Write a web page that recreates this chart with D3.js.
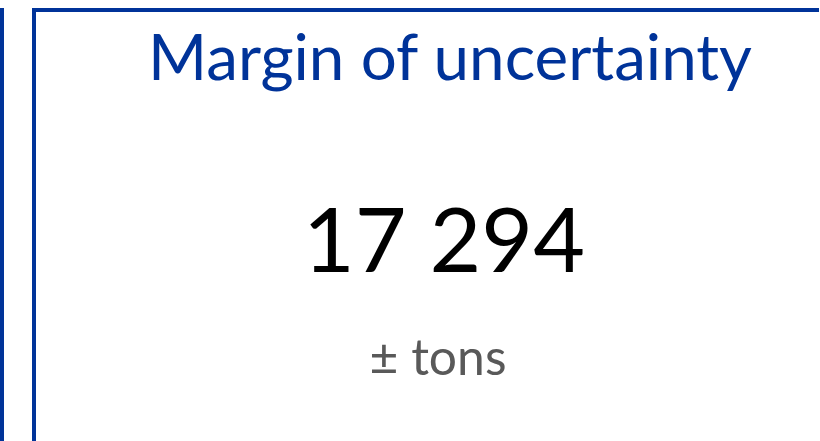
<!DOCTYPE html>
<html>
<head>
<meta charset="utf-8">
<script src="https://cdn.jsdelivr.net/npm/d3@7"></script>
<style>
  html, body { margin: 0; padding: 0; background: #fff; }
</style>
</head>
<body>
<div id="card"></div>
<script>
var svgWidth = 820;
var svgHeight = 441;

// kpi data
var kpiTitles = ["Margin of uncertainty"];
var kpiValues = [17294];
var kpiUnits = ["± tons"];

var blue = "#003399";

var locale = d3.formatLocale({ thousands: " ", grouping: [3], decimal: ",", currency: ["", ""] });
var fmt = locale.format(",d");

var svg = d3.select("#card")
  .append("svg")
  .attr("width", svgWidth)
  .attr("height", svgHeight);

// outer left rule
svg.append("rect")
  .attr("x", 0).attr("y", 8)
  .attr("width", 4).attr("height", svgHeight - 8)
  .attr("fill", blue);

// card frame: top + left
svg.append("rect")
  .attr("x", 32).attr("y", 8)
  .attr("width", 4).attr("height", svgHeight - 8)
  .attr("fill", blue);
svg.append("rect")
  .attr("x", 32).attr("y", 8)
  .attr("width", 787).attr("height", 4)
  .attr("fill", blue);

// fit text to a target width
function fit(sel, target) {
  var size = +sel.attr("font-size");
  var w = sel.node().getComputedTextLength();
  sel.attr("font-size", size * target / w);
}

var font = "Lato, 'Open Sans', sans-serif";

var title = svg.append("text")
  .data(kpiTitles)
  .attr("x", 450).attr("y", 80)
  .attr("text-anchor", "middle")
  .attr("font-family", font)
  .attr("font-size", 60)
  .attr("fill", blue)
  .text(d => d);
fit(title, 604);

var value = svg.append("text")
  .data(kpiValues)
  .attr("x", 444).attr("y", 272)
  .attr("text-anchor", "middle")
  .attr("font-family", font)
  .attr("font-size", 90)
  .attr("fill", "#000")
  .text(d => fmt(d));
fit(value, 282);

var unit = svg.append("text")
  .data(kpiUnits)
  .attr("x", 438).attr("y", 375)
  .attr("text-anchor", "middle")
  .attr("font-family", font)
  .attr("font-size", 45)
  .attr("fill", "#595959")
  .text(d => d);
fit(unit, 137);
</script>
</body>
</html>
